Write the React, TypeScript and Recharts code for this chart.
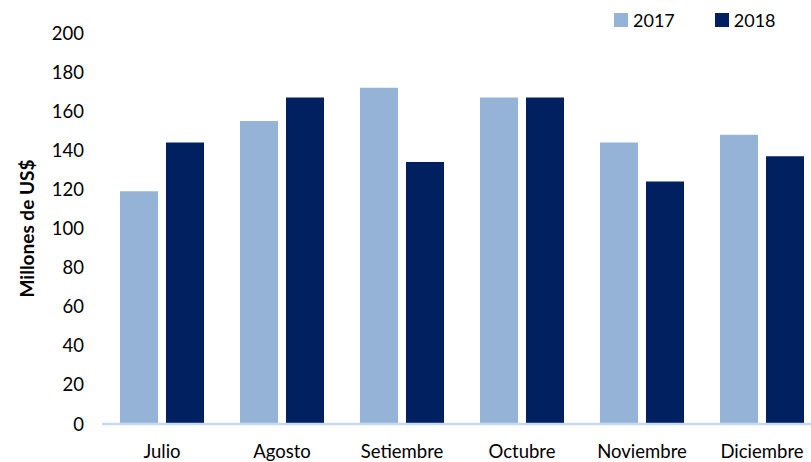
import React from 'react';
import { BarChart, Bar, XAxis, YAxis, ReferenceLine } from 'recharts';

const months = ['Julio', 'Agosto', 'Setiembre', 'Octubre', 'Noviembre', 'Diciembre'];
const values2017 = [119, 155, 172, 167, 144, 148];
const values2018 = [144, 167, 134, 167, 124, 137];
const yTicks = [0, 20, 40, 60, 80, 100, 120, 140, 160, 180, 200];

const data = months.map((m, i) => ({ month: m, y2017: values2017[i], y2018: values2018[i] }));

const FONT = 'Lato, "Open Sans", sans-serif';

const LegendBox = () => (
  <div style={{ position: 'absolute', left: 614, top: 9, display: 'flex', alignItems: 'center', fontFamily: FONT, fontSize: 18, color: '#000' }}>
    <span style={{ width: 14, height: 14, background: '#95b3d7', display: 'inline-block', marginRight: 5 }} />
    <span style={{ marginRight: 40 }}>2017</span>
    <span style={{ width: 14, height: 14, background: '#002060', display: 'inline-block', marginRight: 5 }} />
    <span>2018</span>
  </div>
);

const App: React.FC = () => (
  <div style={{ position: 'absolute', left: 0, top: 0, width: 811, height: 462, overflow: 'hidden', background: '#fff' }}>
    <BarChart
      width={830}
      height={462}
      data={data}
      margin={{ top: 33, right: 8, bottom: 8, left: 22 }}
      barCategoryGap={18}
      barGap={8}
    >
      <XAxis
        dataKey="month"
        axisLine={false}
        tickLine={false}
        tickSize={0}
        tickMargin={21}
        height={30}
        tick={{ fill: '#000', fontSize: 18.5, fontFamily: FONT }}
        interval={0}
      />
      <YAxis
        domain={[0, 200]}
        ticks={yTicks}
        axisLine={false}
        tickLine={false}
        tickSize={0}
        tickMargin={18}
        width={80}
        tick={{ fill: '#000', fontSize: 18.5, fontFamily: FONT }}
        label={{
          value: 'Millones de US$',
          angle: -90,
          position: 'insideLeft',
          style: { textAnchor: 'middle', fontWeight: 'bold', fontSize: 19, fill: '#000', fontFamily: FONT },
        }}
      />
      <Bar dataKey="y2017" fill="#95b3d7" isAnimationActive={false} />
      <Bar dataKey="y2018" fill="#002060" isAnimationActive={false} />
      <ReferenceLine y={0} stroke="#c6d9f1" strokeWidth={2.5} />
    </BarChart>
    <LegendBox />
  </div>
);

export default App;
